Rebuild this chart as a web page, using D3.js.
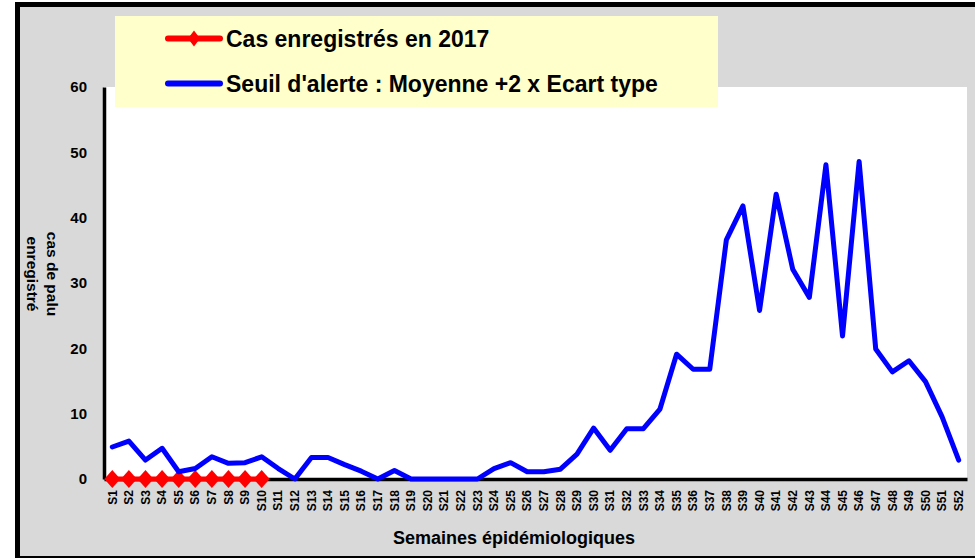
<!DOCTYPE html>
<meta charset="utf-8">
<script src="https://cdn.jsdelivr.net/npm/d3@7"></script>
<style>
	body{margin:0;background:#fff;}
	svg{display:block;font-family:"Liberation Sans",Arial,sans-serif;font-weight:bold;}
</style>
<div id="chart"></div>
<script>
// weeks (categories)
var weeks = ["S1","S2","S3","S4","S5","S6","S7","S8","S9","S10",
"S11","S12","S13","S14","S15","S16","S17","S18","S19","S20",
"S21","S22","S23","S24","S25","S26","S27","S28","S29","S30",
"S31","S32","S33","S34","S35","S36","S37","S38","S39","S40",
"S41","S42","S43","S44","S45","S46","S47","S48","S49","S50",
"S51","S52"]
// cases recorded in 2017 (only S1..S10 reported)
var cas2017 = [0,0,0,0,0,0,0,0,0,0]
// alert threshold: mean + 2 x std
var seuil = [4.9,5.8,2.9,4.7,1.1,1.6,3.4,2.4,2.5,3.4,
1.6,0,3.3,3.3,2.2,1.2,0,1.3,0,0,
0,0,0,1.6,2.5,1.1,1.1,1.5,3.8,7.8,
4.4,7.7,7.7,10.7,19.1,16.8,16.8,36.6,41.8,25.8,
43.6,32.1,27.8,48.1,21.9,48.6,19.9,16.4,18.1,14.9,
9.5,2.9]
var yTicks = [0,10,20,30,40,50,60]
var legendLabels = ["Cas enregistrés en 2017","Seuil d'alerte : Moyenne +2 x Ecart type"]
var yTitle = ["cas de palu","enregistré"]
var xTitle = "Semaines épidémiologiques"

var width = 975
var height = 558
// plot area (window.top is reserved, so use own names)
var pLeft = 104, pRight = 967, pTop = 87, pBottom = 479

var svg = d3.select("#chart").append("svg")
	.attr("width",width)
	.attr("height",height)

// frame
svg.append("rect")
	.attr("x",17.5).attr("y",4.5)
	.attr("width",1000).attr("height",554)
	.attr("fill","#d9d9d9")
	.attr("stroke","#000")
	.attr("stroke-width",5)

svg.append("rect")
	.attr("x",pLeft).attr("y",pTop)
	.attr("width",pRight-pLeft).attr("height",pBottom-pTop)
	.attr("fill","#fff")

var xScale = d3.scaleBand().domain(weeks).range([pLeft,pRight])
var yScale = d3.scaleLinear().domain([0,60]).range([pBottom,pTop])
var xc = function(w){ return xScale(w)+xScale.bandwidth()/2 }

// y axis
var yAxis = d3.axisLeft(yScale).tickValues(yTicks).tickSize(0).tickPadding(17)
var gy = svg.append("g").attr("transform","translate("+pLeft+",0)").call(yAxis)
gy.select(".domain").attr("stroke","#000").attr("stroke-width",3.5)
gy.selectAll("text").attr("font-size",15).attr("fill","#000")
gy.attr("font-family",null).attr("font-size",null)

// x axis
var xAxis = d3.axisBottom(xScale).tickSize(0).tickSizeOuter(0)
var gx = svg.append("g").attr("transform","translate(0,"+pBottom+")").call(xAxis)
gx.attr("font-family",null).attr("font-size",null)
gx.select(".domain").attr("stroke","#000").attr("stroke-width",3.5)
gx.selectAll("text")
	.attr("font-size",12).attr("fill","#000")
	.attr("transform","rotate(-90)")
	.attr("x",-11).attr("y",0).attr("dy","0.35em")
	.attr("text-anchor","end")

// titles
svg.append("text")
	.attr("x",514).attr("y",544)
	.attr("text-anchor","middle")
	.attr("font-size",18)
	.text(xTitle)

svg.selectAll(".ytitle").data(yTitle).enter().append("text")
	.attr("class","ytitle")
	.attr("text-anchor","middle")
	.attr("font-size",15.5)
	.attr("transform",function(d,i){ return "translate("+(47-i*20)+",274) rotate(90)" })
	.text(function(d){return d})

// red series
var redData = cas2017.map(function(v,i){ return {week:weeks[i],value:v} })
svg.append("path")
	.datum(redData)
	.attr("fill","none")
	.attr("stroke","#ff0000")
	.attr("stroke-width",5)
	.attr("d",d3.line().x(function(d){return xc(d.week)}).y(function(d){return yScale(d.value)}))

var diamond = function(w,h){ return "M0,"+(-h/2)+"L"+(w/2)+",0L0,"+(h/2)+"L"+(-w/2)+",0Z" }
svg.selectAll(".dia").data(redData).enter().append("path")
	.attr("class","dia")
	.attr("d",diamond(16,18))
	.attr("fill","#ff0000")
	.attr("transform",function(d){ return "translate("+xc(d.week)+","+yScale(d.value)+")" })

// blue series
var blueData = seuil.map(function(v,i){ return {week:weeks[i],value:v} })
svg.append("path")
	.datum(blueData)
	.attr("fill","none")
	.attr("stroke","#0000ff")
	.attr("stroke-width",5)
	.attr("stroke-linejoin","round")
	.attr("stroke-linecap","round")
	.attr("d",d3.line().x(function(d){return xc(d.week)}).y(function(d){return yScale(d.value)}))

// legend
svg.append("rect")
	.attr("x",115).attr("y",16)
	.attr("width",603).attr("height",91)
	.attr("fill","#ffffcc")

var legColors = ["#ff0000","#0000ff"]
var legY = [38.5,83.5]
var leg = svg.selectAll(".leg").data(legendLabels).enter().append("g")
	.attr("class","leg")
	.attr("transform",function(d,i){ return "translate(0,"+legY[i]+")" })
leg.append("line")
	.attr("x1",168).attr("x2",220)
	.attr("stroke",function(d,i){return legColors[i]})
	.attr("stroke-width",6)
	.attr("stroke-linecap","round")
leg.filter(function(d,i){return i==0}).append("path")
	.attr("d",diamond(12,16))
	.attr("transform","translate(194,0)")
	.attr("fill","#ff0000")
leg.append("text")
	.attr("x",226).attr("y",8)
	.attr("font-size",23)
	.text(function(d){return d})
</script>
